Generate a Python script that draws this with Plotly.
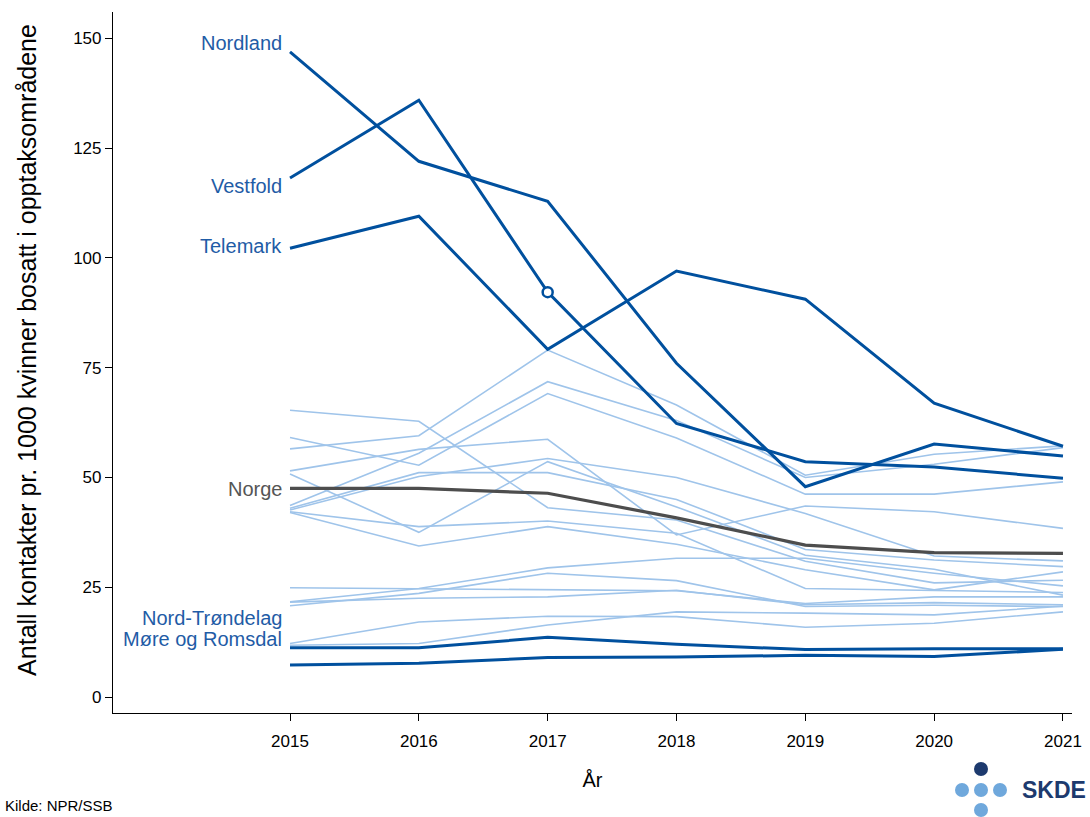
import plotly.graph_objects as go

years = [2015, 2016, 2017, 2018, 2019, 2020, 2021]

# Other catchment areas (light lines)
other_areas = [
    [65.3, 62.8, 43.1, 40.3, 30.9, 26.0, 26.6],
    [59.1, 52.8, 69.1, 59.0, 46.2, 46.2, 49.0],
    [56.5, 59.5, 79.0, 66.5, 50.5, 55.3, 57.2],
    [51.5, 56.4, 58.7, 36.9, 43.5, 42.2, 38.4],
    [50.8, 37.5, 53.6, 43.3, 32.3, 29.1, 23.2],
    [43.6, 55.5, 71.8, 63.0, 50.0, 53.0, 56.8],
    [43.0, 51.1, 51.1, 45.0, 33.6, 31.2, 29.7],
    [42.6, 50.2, 54.3, 50.0, 41.8, 32.1, 31.0],
    [42.2, 38.8, 40.1, 37.3, 24.7, 24.2, 23.8],
    [42.0, 34.4, 38.8, 34.8, 29.0, 24.4, 28.5],
    [24.9, 24.7, 24.4, 24.2, 21.3, 22.8, 22.8],
    [21.7, 24.7, 29.4, 31.6, 31.6, 28.2, 25.3],
    [20.8, 23.6, 28.2, 26.5, 20.6, 20.9, 20.6],
    [21.6, 22.5, 22.8, 24.3, 21.0, 21.5, 21.0],
    [12.2, 17.1, 18.4, 18.3, 15.9, 16.8, 19.4],
    [11.8, 12.2, 16.4, 19.4, 19.1, 18.7, 20.7],
]

norge = [47.5, 47.5, 46.4, 40.8, 34.6, 32.9, 32.7]

highlight_names = ["Nordland", "Vestfold", "Telemark", "Nord-Trøndelag", "Møre og Romsdal"]
nordland = [146.9, 122.0, 112.9, 76.0, 47.9, 57.6, 54.9]
vestfold = [118.2, 135.9, 92.2, 62.3, 53.6, 52.4, 49.8]
telemark = [102.2, 109.5, 79.2, 97.0, 90.6, 66.9, 57.1]
nord_trondelag = [11.2, 11.2, 13.6, 12.0, 10.8, 11.0, 11.0]
more_romsdal = [7.3, 7.7, 9.0, 9.1, 9.5, 9.2, 10.9]
highlight_values = [nordland, vestfold, telemark, nord_trondelag, more_romsdal]
# vertical pixel offsets for the labels (styling)
label_shift = [9, -8, 2, 30, 26]

marked_year = 2017
marked_value = 92.2

y_ticks = [0, 25, 50, 75, 100, 125, 150]

DARK = "#00509e"
LIGHT = "#9fc4ea"
GREY = "#4d4d4d"
LABEL_BLUE = "#1f5ca6"
FONT = "Liberation Sans, Arial, sans-serif"

fig = go.Figure()

for vals in other_areas:
    fig.add_trace(go.Scatter(x=years, y=vals, mode="lines",
                             line=dict(color=LIGHT, width=1.6),
                             hoverinfo="skip", showlegend=False))

fig.add_trace(go.Scatter(x=years, y=norge, mode="lines", name="Norge",
                         line=dict(color=GREY, width=3.2), showlegend=False))

for name, vals in zip(highlight_names, highlight_values):
    fig.add_trace(go.Scatter(x=years, y=vals, mode="lines", name=name,
                             line=dict(color=DARK, width=3), showlegend=False))

fig.add_trace(go.Scatter(x=[marked_year], y=[marked_value], mode="markers",
                         marker=dict(symbol="circle", size=10, color="white",
                                     line=dict(color=DARK, width=2.5)),
                         showlegend=False, hoverinfo="skip"))

annotations = []
for name, vals, sh in zip(highlight_names, highlight_values, label_shift):
    annotations.append(dict(x=years[0], y=vals[0], xref="x", yref="y", text=name,
                            showarrow=False, xanchor="right", yanchor="middle",
                            xshift=-6, yshift=sh,
                            font=dict(family=FONT, size=20, color=LABEL_BLUE)))
annotations.append(dict(x=years[0], y=norge[0], xref="x", yref="y", text="Norge",
                        showarrow=False, xanchor="right", yanchor="middle",
                        xshift=-6, yshift=-1,
                        font=dict(family=FONT, size=20, color="#555555")))
annotations.append(dict(x=0, y=0.518, xref="paper", yref="paper",
                        text="Antall kontakter pr. 1000 kvinner bosatt i opptaksområdene",
                        textangle=-90, showarrow=False, xanchor="center", yanchor="middle",
                        xshift=-86, font=dict(family=FONT, size=25, color="#000000")))
annotations.append(dict(x=0, y=0, xref="paper", yref="paper", text="Kilde: NPR/SSB",
                        showarrow=False, xanchor="left", yanchor="middle",
                        xshift=-110, yshift=-92,
                        font=dict(family=FONT, size=15, color="#000000")))
annotations.append(dict(x=1, y=0, xref="paper", yref="paper", text="<b>SKDE</b>",
                        showarrow=False, xanchor="right", yanchor="middle",
                        xshift=16, yshift=-77,
                        font=dict(family=FONT, size=23, color="#1d3a6e")))

# SKDE logo dots (decoration, pixel positions converted to paper coords)
PL, PR, PT, PB = 113, 1072, 12, 713
def px(xp):
    return (xp - PL) / (PR - PL)
def py(yp):
    return (PB - yp) / (PB - PT)
dots = [(981, 769, "#1d3a6e"), (962, 790, "#6fa8dc"), (981, 790, "#6fa8dc"),
        (1000, 790, "#6fa8dc"), (981, 810, "#6fa8dc")]
shapes = []
r = 7
for cx, cy, col in dots:
    shapes.append(dict(type="circle", xref="paper", yref="paper",
                       x0=px(cx - r), x1=px(cx + r), y0=py(cy + r), y1=py(cy - r),
                       fillcolor=col, line=dict(width=0), layer="above"))

fig.update_layout(
    width=1090, height=817,
    margin=dict(l=PL, r=1090 - PR, t=PT, b=817 - PB, autoexpand=False),
    paper_bgcolor="white", plot_bgcolor="white",
    font=dict(family=FONT, size=17, color="#000000"),
    annotations=annotations, shapes=shapes,
    xaxis=dict(range=[2013.626, 2021.07], tickvals=years, ticktext=[str(y) for y in years],
               showgrid=False, zeroline=False, showline=True, linecolor="#000000",
               linewidth=1.2, ticks="outside", ticklen=7, tickcolor="#000000",
               tickfont=dict(size=17), automargin=False, ticklabelstandoff=5,
               title=dict(text="År", font=dict(size=20), standoff=23)),
    yaxis=dict(range=[-3.64, 156.0], tickvals=y_ticks, showgrid=False, zeroline=False,
               showline=True, linecolor="#000000", linewidth=1.2, ticks="outside",
               ticklen=7, tickcolor="#000000", tickfont=dict(size=17), automargin=False),
)

fig.write_html("out.html", config={"displayModeBar": False},
               post_script="document.body.style.margin='0';")
